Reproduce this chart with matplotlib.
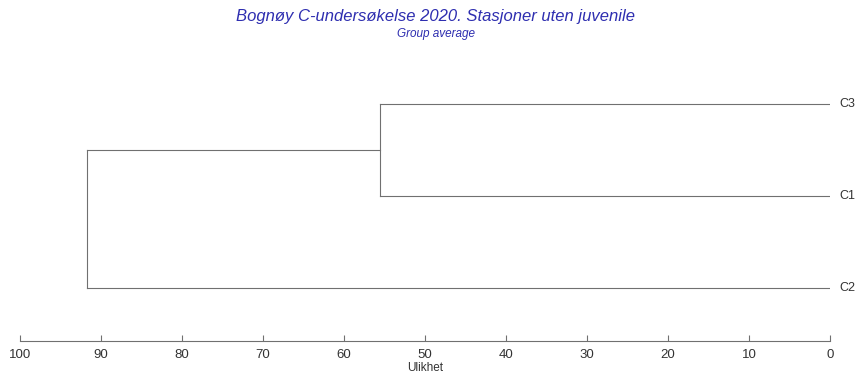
import matplotlib
matplotlib.use("Agg")
from matplotlib import pyplot as plt

# data: leaves top-to-bottom and merge heights (dissimilarity)
leaves = ["C3", "C1", "C2"]
merge_a = ["C3", "C3+C1"]
merge_b = ["C1", "C2"]
merge_height = [55.6, 91.7]
ticks = [100, 90, 80, 70, 60, 50, 40, 30, 20, 10, 0]

line_col = "#707070"
title_col = "#2e2eb0"

plt.rcParams['font.family'] = ['Liberation Sans', 'DejaVu Sans']

fig = plt.figure(figsize=(8.55, 3.74), dpi=100)
W, H = 855, 374
ax = fig.add_axes([20 / W, 33.3 / H, 810 / W, (294 - 33.3) / H])

# leaf positions and heights
pos = {name: i for i, name in enumerate(leaves)}
hgt = {name: 0.0 for name in leaves}

for a, b, h in zip(merge_a, merge_b, merge_height):
    ya, yb = pos[a], pos[b]
    ax.plot([hgt[a], h], [ya, ya], color=line_col, lw=0.8)
    ax.plot([hgt[b], h], [yb, yb], color=line_col, lw=0.8)
    ax.plot([h, h], [ya, yb], color=line_col, lw=0.8)
    pos[a + "+" + b] = (ya + yb) / 2
    hgt[a + "+" + b] = h

for name in leaves:
    ax.text(-1.2, pos[name], name, ha="left", va="center", fontsize=9, color="#333333", clip_on=False)

ax.set_xlim(100, 0)
ax.set_ylim(2.57, -0.26)
for s in ["top", "left", "right"]:
    ax.spines[s].set_visible(False)
ax.spines["bottom"].set_color(line_col)
ax.spines["bottom"].set_linewidth(0.8)
ax.set_yticks([])
ax.set_xticks(ticks)
ax.set_xticklabels([str(t) for t in ticks])
ax.tick_params(axis="x", direction="in", length=4, color=line_col, labelsize=9.5,
               labelcolor="#333333", pad=6)
ax.set_xlabel("Ulikhet", fontsize=8.5, color="#333333", labelpad=1)

fig.text(435 / W, 1 - 17 / H, "Bognøy C-undersøkelse 2020. Stasjoner uten juvenile",
         ha="center", va="center", fontsize=12, style="italic", color=title_col)
fig.text(436 / W, 1 - 34 / H, "Group average",
         ha="center", va="center", fontsize=8.5, style="italic", color=title_col)

fig.savefig("out.png", dpi=100)
